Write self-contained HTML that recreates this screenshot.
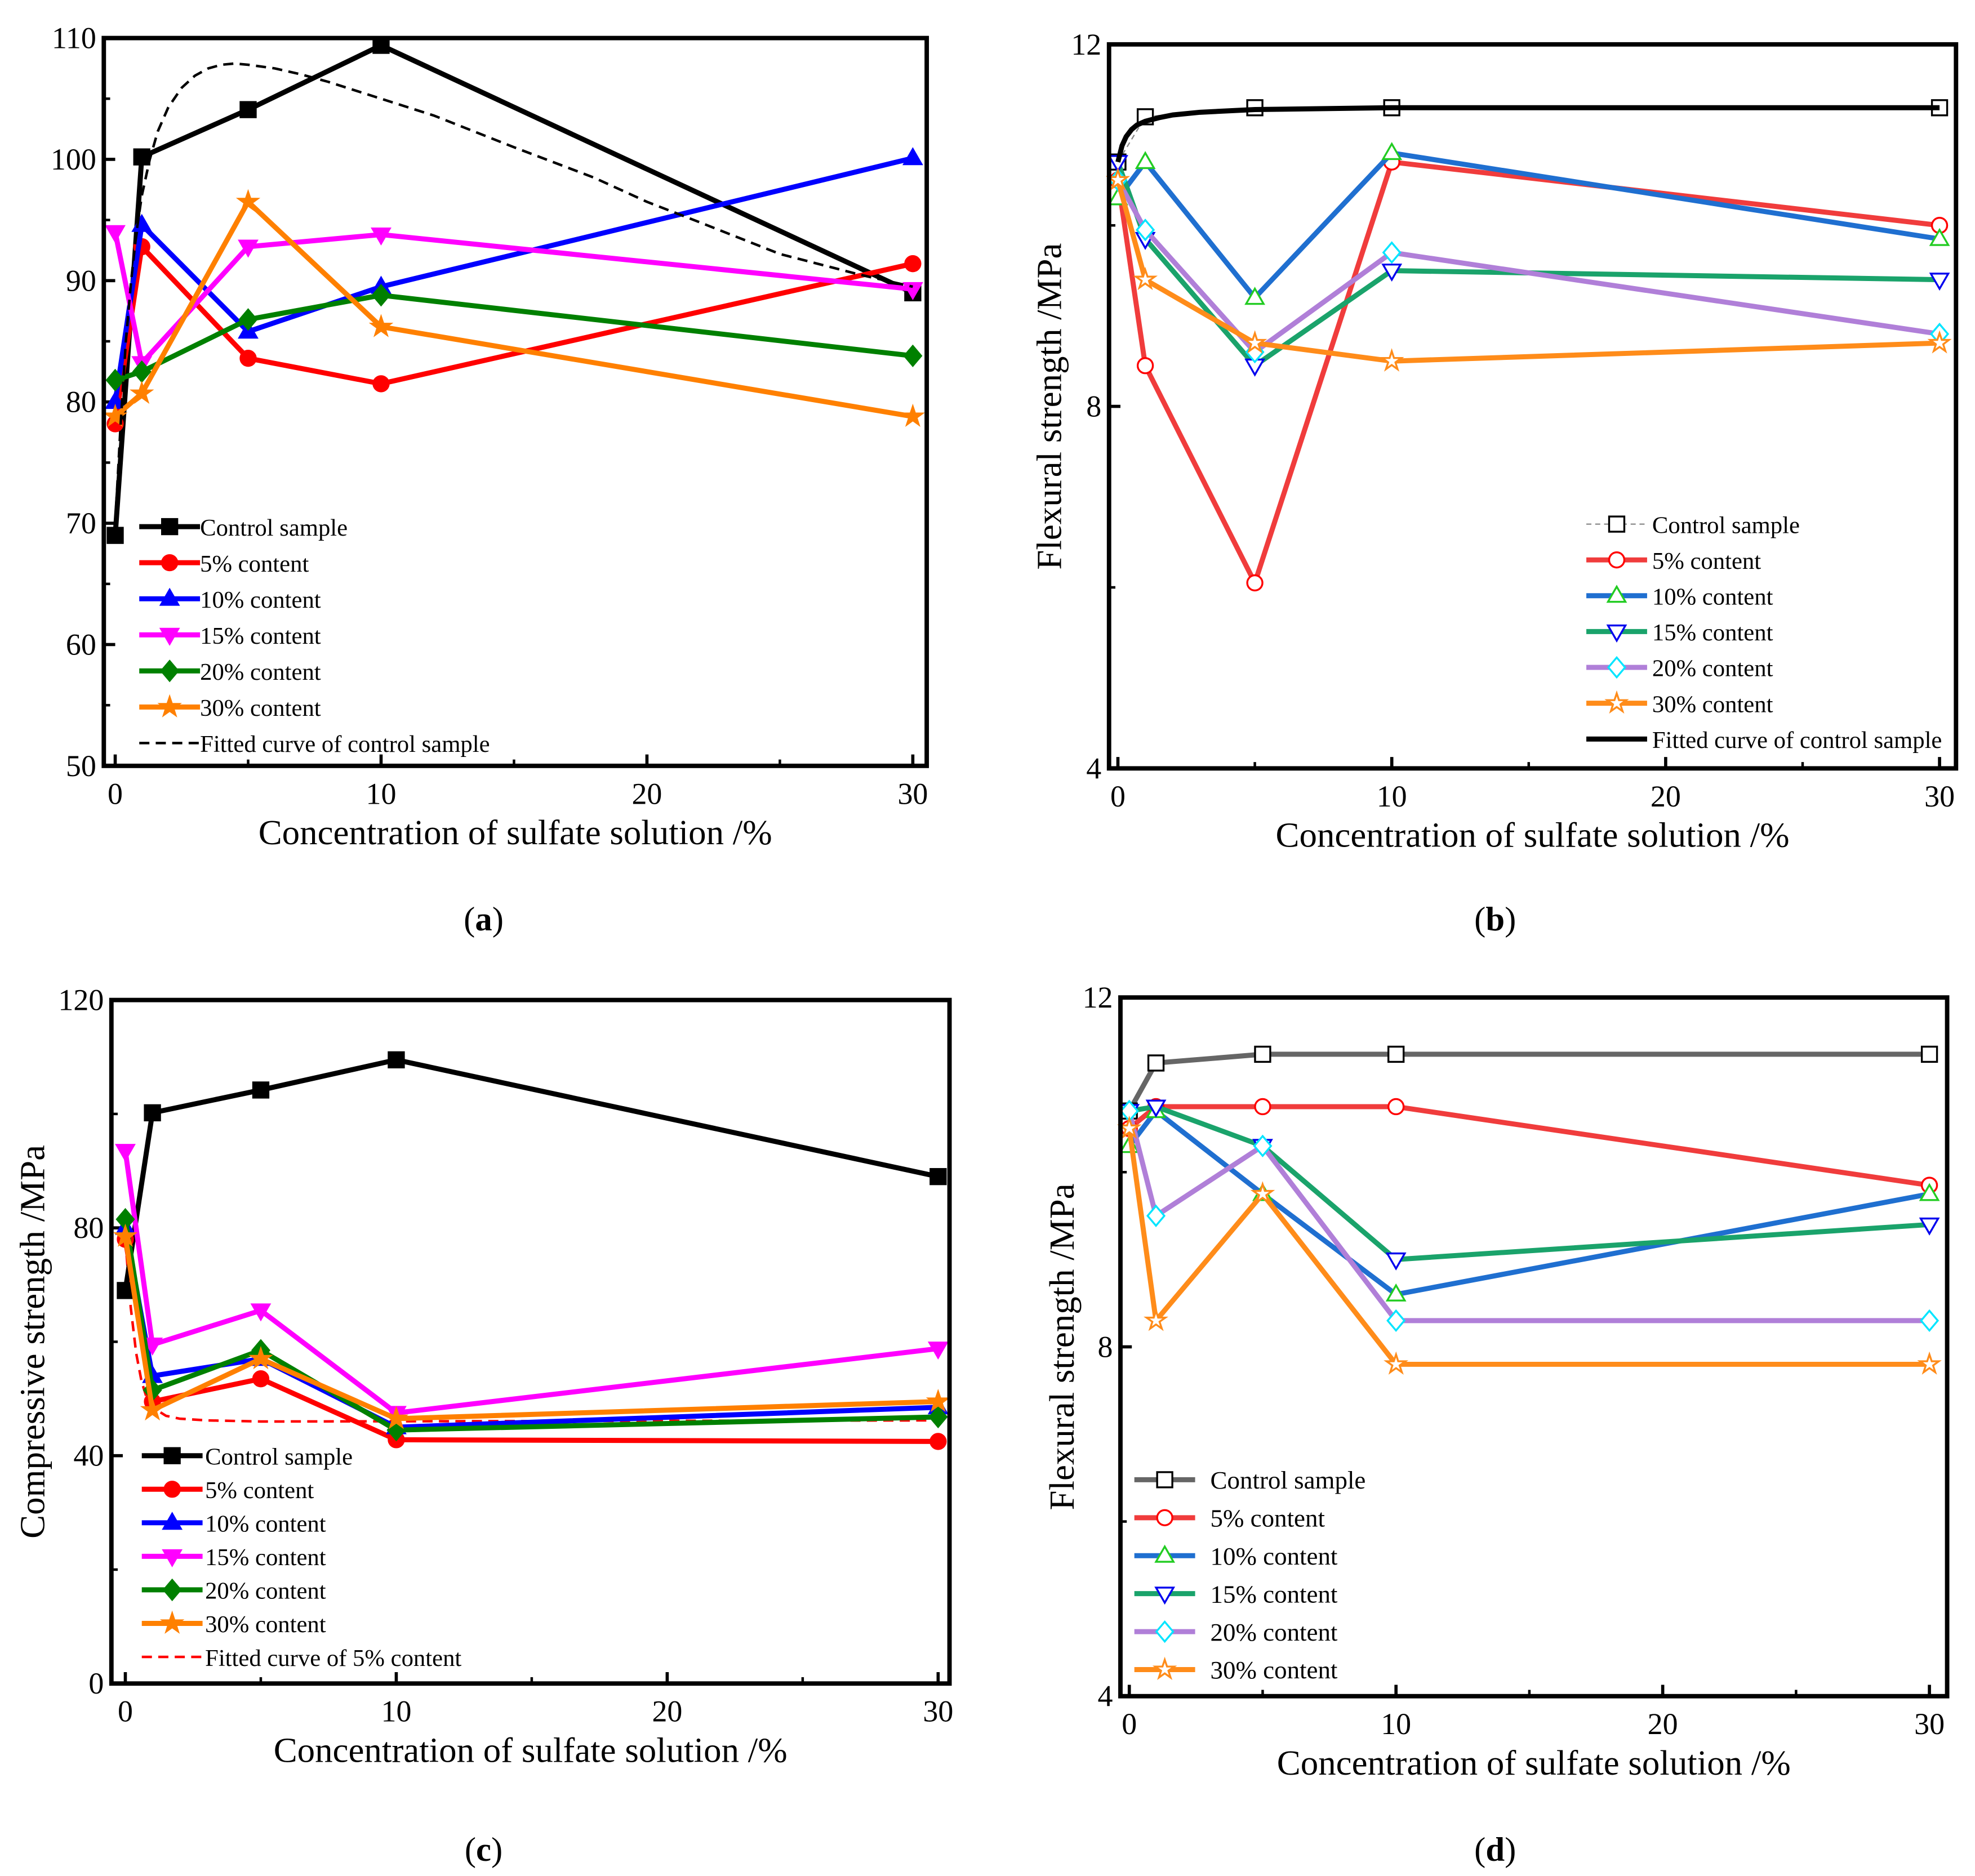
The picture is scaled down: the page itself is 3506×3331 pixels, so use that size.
<!DOCTYPE html>
<html><head><meta charset="utf-8"><style>
html,body{margin:0;padding:0;background:#fff}
svg{display:block}
text{font-family:"Liberation Serif",serif;fill:#000}
</style></head><body>
<svg id="s" width="3506" height="3331" viewBox="0 0 1560 1482" xmlns="http://www.w3.org/2000/svg">
<text x="382" y="735" font-size="27" text-anchor="middle">(<tspan font-weight="bold">a</tspan>)</text>
<text x="1181" y="735" font-size="27" text-anchor="middle">(<tspan font-weight="bold">b</tspan>)</text>
<text x="382" y="1470" font-size="27" text-anchor="middle">(<tspan font-weight="bold">c</tspan>)</text>
<text x="1181" y="1470" font-size="27" text-anchor="middle">(<tspan font-weight="bold">d</tspan>)</text>
</svg>
<script>
const xCats=[0,1,5,10,30];
const xTicks=[0,10,20,30];
const seriesNames=["Control sample","5% content","10% content","15% content","20% content","30% content"];
// panel a (compressive)
const aCtrl=[69,100.2,104.1,109.4,89];
const a5=[78.2,92.8,83.6,81.5,91.4];
const a10=[80,94.6,85.8,89.5,100.1];
const a15=[94,83.2,92.8,93.8,89.3];
const a20=[81.8,82.5,86.8,88.8,83.8];
const a30=[78.8,80.7,96.5,86.2,78.8];
const aFitX=[0,0.2,0.4,0.6,0.8,1,1.3,1.6,2,2.5,3,3.5,4,4.5,5,6,7,8,10,12,15,18,20,22,25,28,30];
const aFitY=[70,78,85,90,94,97,100,102.3,104.3,105.9,106.9,107.5,107.8,107.9,107.8,107.5,107,106.4,105,103.6,101,98.5,96.5,94.8,92.2,90.5,89.5];
const aYTicks=[50,60,70,80,90,100,110];
// panel b (flexural)
const bCtrl=[10.7,11.2,11.3,11.3,11.3];
const b5=[10.5,8.45,6.05,10.7,10.0];
const b10=[10.3,10.7,9.2,10.8,9.85];
const b15=[10.7,9.85,8.45,9.5,9.4];
const b20=[10.5,9.95,8.6,9.7,8.8];
const b30=[10.5,9.4,8.7,8.5,8.7];
const bFitX=[0,0.15,0.3,0.5,0.7,1,1.5,2,3,5,10,30];
const bFitY=[10.7,10.88,10.98,11.06,11.11,11.15,11.19,11.22,11.25,11.28,11.3,11.3];
const bYTicks=[4,8,12];
// panel c
const cCtrl=[69,100.2,104.2,109.5,89];
const c5=[78,49.5,53.5,42.8,42.5];
const c10=[80,54,57,45,48.5];
const c15=[93.5,59.5,65.5,47.5,58.8];
const c20=[81.5,51.5,58.5,44.5,46.8];
const c30=[78.5,48,57,46.5,49.5];
const cFitX=[0,0.2,0.4,0.6,0.8,1,1.5,2,3,5,30];
const cFitY=[78,66,58,53,50,48.5,47,46.5,46.2,46,46.2];
const cYTicks=[0,40,80,120];
// panel d
const dCtrl=[10.7,11.25,11.35,11.35,11.35];
const d5=[10.5,10.75,10.75,10.75,9.85];
const d10=[10.3,10.7,9.75,8.6,9.75];
const d15=[10.7,10.75,10.3,9.0,9.4];
const d20=[10.7,9.5,10.3,8.3,8.3];
const d30=[10.5,8.3,9.75,7.8,7.8];
const dYTicks=[4,8,12];

const NS="http://www.w3.org/2000/svg";
const svg=document.getElementById('s');
function mk(tag,attrs,parent){const e=document.createElementNS(NS,tag);for(const k in attrs)e.setAttribute(k,attrs[k]);(parent||svg).appendChild(e);return e;}
function marker(g,type,cx,cy,fill,stroke,r){
  let e;
  if(type==='sq')e=mk('rect',{x:cx-r,y:cy-r,width:2*r,height:2*r},g);
  else if(type==='ci')e=mk('circle',{cx:cx,cy:cy,r:r},g);
  else if(type==='tu')e=mk('polygon',{points:`${cx},${cy-r*1.2} ${cx-r*1.15},${cy+r*0.8} ${cx+r*1.15},${cy+r*0.8}`},g);
  else if(type==='td')e=mk('polygon',{points:`${cx},${cy+r*1.2} ${cx-r*1.15},${cy-r*0.8} ${cx+r*1.15},${cy-r*0.8}`},g);
  else if(type==='di')e=mk('polygon',{points:`${cx},${cy-r*1.3} ${cx+r*1.1},${cy} ${cx},${cy+r*1.3} ${cx-r*1.1},${cy}`},g);
  else {let p=[];for(let i=0;i<10;i++){const a=-Math.PI/2+i*Math.PI/5;const rr=i%2?r*0.5:r*1.3;p.push((cx+rr*Math.cos(a)).toFixed(1)+','+(cy+rr*Math.sin(a)).toFixed(1));}e=mk('polygon',{points:p.join(' ')},g);}
  e.setAttribute('fill',fill);e.setAttribute('stroke',stroke);e.setAttribute('stroke-width','1.5');
  
  
}
const types=['sq','ci','tu','td','di','st'];
function panel(P){
  const g=mk('g',{});
  
  
  const X=v=>P.x0+(v-0)*(P.x30-P.x0)/30;
  const Y=v=>P.yTop+(P.yMax-v)*(P.yBot-P.yTop)/(P.yMax-P.yMin);
  P.yTicks.forEach(t=>{
    const yy=Y(t);
    const l=mk('line',{x1:P.L,x2:P.L+9,y1:yy,y2:yy,stroke:'#000','stroke-width':2.5},g);
    
    const tx=mk('text',{x:P.L-6,y:yy+8,'font-size':24,'text-anchor':'end'},g);tx.textContent=t;
    
  });
  for(let i=0;i<P.yTicks.length-1;i++){const m=(P.yTicks[i]+P.yTicks[i+1])/2;mk('line',{x1:P.L,x2:P.L+5,y1:Y(m),y2:Y(m),stroke:'#000','stroke-width':2},g);}
  xTicks.forEach(t=>{
    const xx=X(t);
    const l=mk('line',{x1:xx,x2:xx,y1:P.B,y2:P.B-9,stroke:'#000','stroke-width':2.5},g);
    
    const tx=mk('text',{x:xx,y:P.B+30,'font-size':24,'text-anchor':'middle'},g);tx.textContent=t;
    
  });
  [5,15,25].forEach(t=>mk('line',{x1:X(t),x2:X(t),y1:P.B,y2:P.B-5,stroke:'#000','stroke-width':2},g));
  const xt=mk('text',{x:(P.L+P.R)/2,y:P.B+62,'font-size':28,'text-anchor':'middle'},g);
  xt.textContent='Concentration of sulfate solution  /%';
  
  if(P.ytitle){const yt=mk('text',{x:0,y:0,'font-size':28,'text-anchor':'middle',transform:`translate(${P.ytx},${(P.T+P.B)/2}) rotate(-90)`},g);
    yt.textContent=P.ytitle;}
  if(P.fitX && !P.fitTop){const pts=P.fitX.map((v,i)=>X(v)+','+Y(P.fitY[i])).join(' ');
    const f=mk('polyline',{points:pts,fill:'none',stroke:P.fitColor,'stroke-width':P.fitW,'stroke-dasharray':P.fitDash,'stroke-linejoin':'round'},g);
    }
  P.series.forEach((s,k)=>{
    const pts=xCats.map((v,i)=>X(v)+','+Y(s[i])).join(' ');
    const pl=mk('polyline',{points:pts,fill:'none',stroke:P.lineColors[k],'stroke-width':P.lw[k],'stroke-dasharray':P.dash[k]||'none'},g);
    
    xCats.forEach((v,i)=>marker(g,types[k],X(v),Y(s[i]),P.fill[k],P.mstroke[k],P.mr));
  });
  if(P.fitX && P.fitTop){const pts=P.fitX.map((v,i)=>X(v)+','+Y(P.fitY[i])).join(' ');
    const f=mk('polyline',{points:pts,fill:'none',stroke:P.fitColor,'stroke-width':P.fitW,'stroke-dasharray':P.fitDash,'stroke-linejoin':'round'},g);
    }
  const fr=mk('rect',{x:P.L,y:P.T,width:P.R-P.L,height:P.B-P.T,fill:'none',stroke:'#000','stroke-width':3.5},g);
  
  P.legendOrder.forEach((e,i)=>{
    const yy=P.legY+i*P.legStep;
    const lg=mk('g',{},g);
    
    
    if(e==='fit'){mk('line',{x1:P.legX,x2:P.legX+48,y1:yy,y2:yy,stroke:P.fitColor,'stroke-width':P.fitW,'stroke-dasharray':P.fitDash},lg);}
    else{mk('line',{x1:P.legX,x2:P.legX+48,y1:yy,y2:yy,stroke:P.lineColors[e],'stroke-width':P.lw[e],'stroke-dasharray':P.dash[e]||'none'},lg);
      marker(lg,types[e],P.legX+24,yy,P.fill[e],P.mstroke[e],P.mr);}
    const t=mk('text',{x:P.legX+P.legTx,y:yy+7,'font-size':P.legFs},lg);
    t.textContent=e==='fit'?P.fitLabel:seriesNames[e];
  });
}
const solid=['#000','#ff0000','#0000ff','#ff00ff','#008000','#ff8000'];
const bl=['#888','#f03c3c','#1f6fd0','#1aa36b','#b07fd8','#ff8c1a'];
const bm=['#000','#ff0000','#22cc22','#0000ee','#00e5ff','#ff8c1a'];
panel({name:'panel-a',L:82,R:732,T:30,B:605,x0:91,x30:721,yTop:30,yBot:605,yMax:110,yMin:50,yTicks:aYTicks,ytitle:null,
  series:[aCtrl,a5,a10,a15,a20,a30],lineColors:solid,lw:[4,4,4,4,4,4],dash:[],fill:solid,mstroke:solid,mr:6,
  fitX:aFitX,fitY:aFitY,fitColor:'#000',fitW:2,fitDash:'8,5',fitTop:true,fitLabel:'Fitted curve of control sample',
  legendOrder:[0,1,2,3,4,5,'fit'],legX:110,legY:416,legStep:28.5,legTx:48,legFs:19});
panel({name:'panel-b',L:876,R:1545,T:35,B:607,x0:883,x30:1532,yTop:35,yBot:607,yMax:12,yMin:4,yTicks:bYTicks,ytitle:'Flexural strength /MPa',ytx:838,
  series:[bCtrl,b5,b10,b15,b20,b30],lineColors:bl,lw:[1,4,4,4,4,4],dash:['4,3'],fill:['#fff','#fff','#fff','#fff','#fff','#fff'],mstroke:bm,mr:6,
  fitX:bFitX,fitY:bFitY,fitColor:'#000',fitW:4,fitDash:'none',fitTop:true,fitLabel:'Fitted curve of control sample',
  legendOrder:[0,1,2,3,4,5,'fit'],legX:1253,legY:414,legStep:28.3,legTx:52,legFs:19});
panel({name:'panel-c',L:88,R:750,T:790,B:1330,x0:99,x30:741,yTop:790,yBot:1330,yMax:120,yMin:0,yTicks:cYTicks,ytitle:'Compressive strength /MPa',ytx:35,
  series:[cCtrl,c5,c10,c15,c20,c30],lineColors:solid,lw:[4,4,4,4,4,4],dash:[],fill:solid,mstroke:solid,mr:6,
  fitX:cFitX,fitY:cFitY,fitColor:'#ff0000',fitW:2,fitDash:'8,5',fitTop:false,fitLabel:'Fitted curve of 5% content',
  legendOrder:[0,1,2,3,4,5,'fit'],legX:112,legY:1150,legStep:26.5,legTx:50,legFs:19});
panel({name:'panel-d',L:885,R:1538,T:788,B:1340,x0:892,x30:1524,yTop:788,yBot:1340,yMax:12,yMin:4,yTicks:dYTicks,ytitle:'Flexural strength /MPa',ytx:848,
  series:[dCtrl,d5,d10,d15,d20,d30],lineColors:['#666',bl[1],bl[2],bl[3],bl[4],bl[5]],lw:[4,4,4,4,4,4],dash:[],fill:['#fff','#fff','#fff','#fff','#fff','#fff'],mstroke:bm,mr:6,
  fitX:null,legendOrder:[0,1,2,3,4,5],legX:896,legY:1169,legStep:30,legTx:60,legFs:20});
</script>
</body></html>
